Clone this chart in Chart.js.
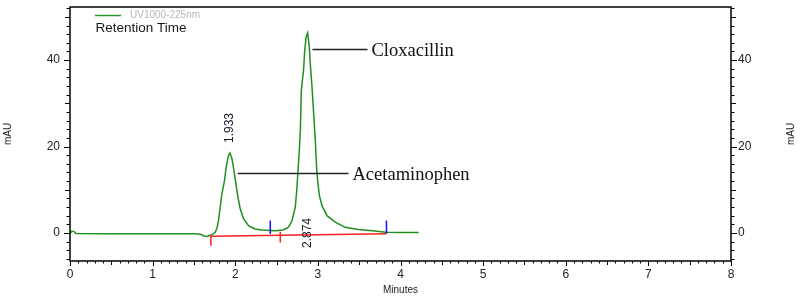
<!DOCTYPE html>
<html><head><meta charset="utf-8">
<script src="https://cdn.jsdelivr.net/npm/chart.js@4"></script>
<style>html,body{margin:0;padding:0;background:#fff;}canvas{display:block;}</style>
</head><body>
<canvas id="c" width="800" height="299"></canvas>
<script>
// ---- data ----
const timeMin = [0, 0.02, 0.05, 0.07, 0.5, 1.0, 1.5, 1.58, 1.62, 1.66, 1.69, 1.72, 1.758, 1.78, 1.798, 1.818, 1.838, 1.867, 1.891, 1.919, 1.935, 1.96, 1.984, 2.008, 2.032, 2.06, 2.1, 2.16, 2.24, 2.32, 2.48, 2.58, 2.64, 2.667, 2.687, 2.707, 2.727, 2.745, 2.76, 2.775, 2.788, 2.8, 2.828, 2.84, 2.857, 2.876, 2.897, 2.909, 2.93, 2.95, 2.97, 2.985, 3.0, 3.02, 3.05, 3.11, 3.21, 3.33, 3.49, 3.66, 3.82, 4.0, 4.22];
const absorbance = [-0.2, 0.35, 0.3, -0.15, -0.2, -0.2, -0.2, -0.3, -0.7, -0.85, -0.6, -0.4, 0.15, 1.2, 2.9, 6, 9, 11.8, 15.3, 18, 18.5, 17.2, 14.5, 11.4, 8.3, 5.6, 3.3, 1.7, 0.9, 0.7, 0.5, 0.7, 1.3, 2.1, 2.9, 4.4, 6, 10, 14.5, 19, 23.8, 33, 38, 42, 45.3, 46.3, 42.8, 38.9, 33.5, 27.3, 21, 15, 11.5, 8.5, 6.3, 4, 2.5, 1.3, 0.77, 0.5, 0.15, 0.1, 0.1];
const peakTimes = [1.933, 2.874];
const peakHeights = [18.5, 46.3];
const peakLabels = ['1.933', '2.874'];
const compoundNames = ['Acetaminophen', 'Cloxacillin'];
const baselineTimes = [1.705, 3.83];
const baselineValues = [-0.75, -0.2];
const startMarkTimes = [1.705, 2.545];
const startMarkTop = [-0.6, 0.3];
const startMarkBottom = [-2.95, -2.2];
const endMarkTimes = [2.424, 3.83];
const endMarkTop = [2.9, 2.9];
const endMarkBottom = [-0.25, -0.2];
const xTickStep = 1;
const yTickStep = 20;
const seriesName = 'UV1000-225nm';
const chartTitle = 'Retention Time';
const xTitle = 'Minutes';
const yTitle = 'mAU';

// ---- build datasets ----
const trace = timeMin.map((t, i) => ({x: t, y: absorbance[i]}));
const baseline = baselineTimes.map((t, i) => ({x: t, y: baselineValues[i]}));
function marks(times, tops, bottoms) {
  const out = [];
  times.forEach((t, i) => { out.push({x: t, y: tops[i]}, {x: t, y: bottoms[i]}, {x: t, y: null}); });
  return out;
}
const FONT = "'Liberation Sans', Arial, sans-serif";
const SERIF = "'Liberation Serif', 'Times New Roman', serif";

const decor = {
  id: 'decor',
  afterDraw(chart) {
    const ctx = chart.ctx, a = chart.chartArea;
    const xs = chart.scales.x, ys = chart.scales.y;
    ctx.save();
    // frame
    ctx.strokeStyle = '#000'; ctx.lineWidth = 1.5;
    ctx.strokeRect(a.left, a.top, a.right - a.left, a.bottom - a.top);
    // x minor/major ticks
    ctx.lineWidth = 1;
    ctx.beginPath();
    for (let k = 0; k <= 80; k++) {
      const px = Math.round(xs.getPixelForValue(k / 10)) + 0.5;
      const len = k % 10 === 0 ? 5 : (k % 5 === 0 ? 4 : 2.5);
      ctx.moveTo(px, a.bottom); ctx.lineTo(px, a.bottom + len);
    }
    // y ticks both sides
    for (let v = -6; v <= 52; v += 2) {
      const py = Math.round(ys.getPixelForValue(v)) + 0.5;
      const len = v % 20 === 0 ? 6 : (v % 10 === 0 ? 5 : 3.5);
      ctx.moveTo(a.left - len, py); ctx.lineTo(a.left, py);
      ctx.moveTo(a.right, py); ctx.lineTo(a.right + len, py);
    }
    ctx.stroke();

    // legend / title
    ctx.strokeStyle = '#2a9a2a'; ctx.lineWidth = 1.5;
    ctx.beginPath(); ctx.moveTo(95, 15.5); ctx.lineTo(121, 15.5); ctx.stroke();
    ctx.fillStyle = '#b8b8b8'; ctx.font = '10px ' + FONT;
    ctx.textBaseline = 'middle'; ctx.textAlign = 'left';
    ctx.fillText(seriesName, 130, 15.5);
    ctx.fillStyle = '#1a1a1a'; ctx.font = '13.5px ' + FONT;
    ctx.fillText(chartTitle, 95.5, 28.5);

    // right axis title
    ctx.save();
    ctx.translate(791, 134); ctx.rotate(-Math.PI / 2);
    ctx.textAlign = 'center'; ctx.fillStyle = '#222'; ctx.font = '10px ' + FONT;
    ctx.fillText(yTitle, 0, 0);
    ctx.restore();

    // rotated retention time labels
    ctx.fillStyle = '#1a1a2a'; ctx.font = '12px ' + FONT;
    const labelStart = [ys.getPixelForValue(peakHeights[0]) - 10, ys.getPixelForValue(-3.5)];
    peakTimes.forEach((t, i) => {
      ctx.save();
      ctx.translate(xs.getPixelForValue(t), labelStart[i]);
      ctx.rotate(-Math.PI / 2);
      ctx.textAlign = 'left'; ctx.textBaseline = 'middle';
      ctx.fillText(peakLabels[i], 0, 0);
      ctx.restore();
    });

    // compound callouts
    const callY = [13.8, 42.6];
    const callStart = [8, 5];
    const callEnd = [348.5, 367.5];
    ctx.strokeStyle = '#222'; ctx.lineWidth = 1.4;
    ctx.fillStyle = '#111'; ctx.font = '18.5px ' + SERIF;
    ctx.textAlign = 'left'; ctx.textBaseline = 'alphabetic';
    peakTimes.forEach((t, i) => {
      const py = Math.round(ys.getPixelForValue(callY[i])) + 0.5;
      ctx.beginPath();
      ctx.moveTo(xs.getPixelForValue(t) + callStart[i], py);
      ctx.lineTo(callEnd[i], py);
      ctx.stroke();
      ctx.fillText(compoundNames[i], callEnd[i] + 4, py + 6);
    });
    ctx.restore();
  }
};

function noPad(s) { s.paddingTop = 0; s.paddingBottom = 0; }

new Chart(document.getElementById('c'), {
  type: 'line',
  data: {
    datasets: [
      {data: baseline, borderColor: '#ff2020', borderWidth: 1.5, pointRadius: 0},
      {data: marks(startMarkTimes, startMarkTop, startMarkBottom), borderColor: '#ff2020', borderWidth: 1.5, pointRadius: 0, spanGaps: false},
      {data: marks(endMarkTimes, endMarkTop, endMarkBottom), borderColor: '#1010ff', borderWidth: 1.5, pointRadius: 0, spanGaps: false},
      {label: seriesName, data: trace, borderColor: '#1f8f1f', borderWidth: 1.5, pointRadius: 0, tension: 0}
    ]
  },
  options: {
    responsive: false, animation: false, devicePixelRatio: 1,
    layout: {padding: {top: 7, left: 0, right: 0, bottom: 0}},
    plugins: {legend: {display: false}, tooltip: {enabled: false}},
    scales: {
      x: {
        type: 'linear', min: 0, max: 8,
        grid: {display: false, drawTicks: false}, border: {display: false},
        ticks: {stepSize: xTickStep, padding: 6, color: '#222', font: {family: FONT, size: 12}, maxRotation: 0},
        title: {display: true, text: xTitle, color: '#222', font: {family: FONT, size: 10}, padding: {top: 0, bottom: 3}},
        afterFit(s) { s.height = 38; s.paddingLeft = 0; s.paddingRight = 0; }
      },
      y: {
        position: 'left', min: -6.5, max: 52.3,
        grid: {display: false, drawTicks: false}, border: {display: false},
        ticks: {stepSize: yTickStep, includeBounds: false, padding: 10, color: '#222', font: {family: FONT, size: 12}},
        title: {display: true, text: yTitle, color: '#222', font: {family: FONT, size: 10}, padding: {top: 2, bottom: 0}},
        afterFit(s) { s.width = 70; noPad(s); }
      },
      y2: {
        position: 'right', min: -6.5, max: 52.3,
        grid: {display: false, drawTicks: false}, border: {display: false},
        ticks: {stepSize: yTickStep, includeBounds: false, padding: 7, color: '#222', font: {family: FONT, size: 12}},
        afterFit(s) { s.width = 69; noPad(s); }
      }
    }
  },
  plugins: [decor]
});
</script>
</body></html>
